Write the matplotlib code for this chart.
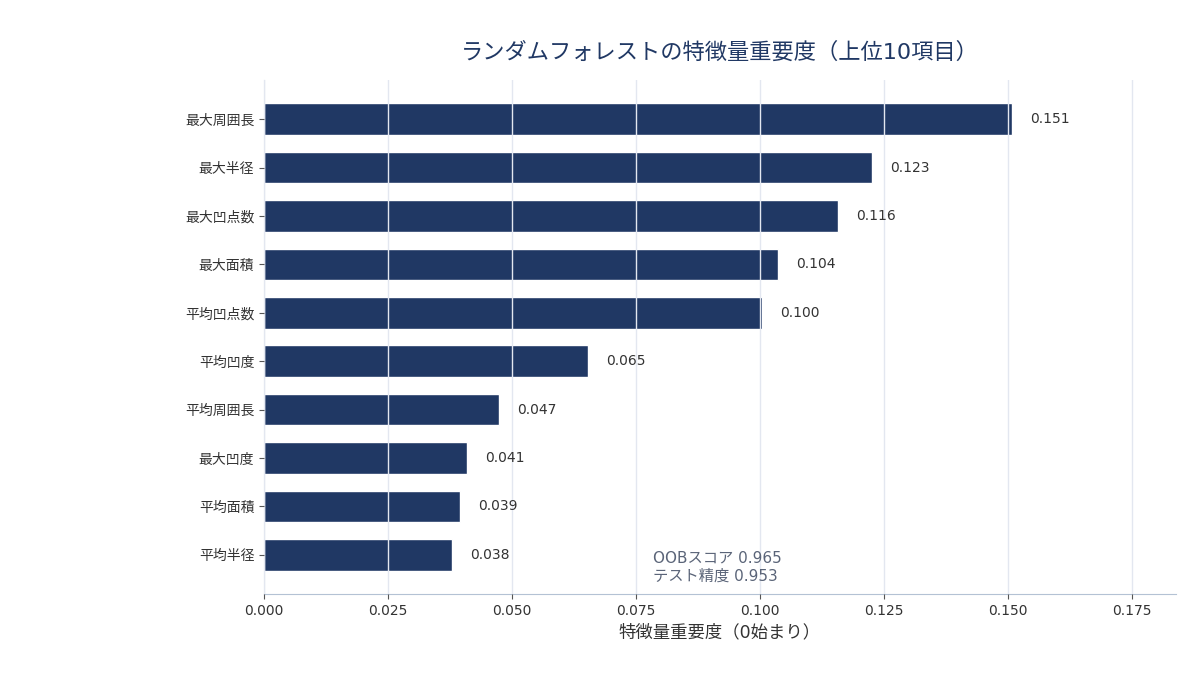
import matplotlib
matplotlib.use("Agg")
import matplotlib.pyplot as plt

plt.rcParams['font.family'] = ['DejaVu Sans', 'Noto Sans CJK JP']

# 特徴量と重要度（上位10項目）
features = ['最大周囲長', '最大半径', '最大凹点数', '最大面積', '平均凹点数',
            '平均凹度', '平均周囲長', '最大凹度', '平均面積', '平均半径']
importance = [0.1508, 0.1226, 0.1157, 0.1036, 0.1004,
              0.0653, 0.0474, 0.0409, 0.0395, 0.0379]
labels = ['0.151', '0.123', '0.116', '0.104', '0.100',
          '0.065', '0.047', '0.041', '0.039', '0.038']
oob_score = 0.965
test_acc = 0.953

navy = '#203864'
spine_c = '#b4c2d4'

fig = plt.figure(figsize=(12, 6.75), dpi=100)
ax = fig.add_axes([0.22, 0.12, 0.76, 0.7615])

ypos = list(range(len(features)))
ax.barh(ypos, importance, height=0.65, color=navy, edgecolor='white', linewidth=1.0)
ax.set_yticks(ypos)
ax.set_yticklabels(features, fontsize=10, color='#333333')
ax.invert_yaxis()

# 値ラベル
for y, v, s in zip(ypos, importance, labels):
    ax.text(v + 0.0037, y, s, va='center', ha='left', fontsize=10, color='#333333')

ax.set_xlim(0, 0.1839)
ax.set_xticks([0, 0.025, 0.05, 0.075, 0.1, 0.125, 0.15, 0.175])
ax.set_xticklabels(['0.000', '0.025', '0.050', '0.075', '0.100', '0.125', '0.150', '0.175'],
                   fontsize=10, color='#333333')
ax.xaxis.grid(True, color='#e3e7f0', linewidth=1.0)
ax.set_axisbelow(False)

for sp in ['top', 'right']:
    ax.spines[sp].set_visible(False)
for sp in ['left', 'bottom']:
    ax.spines[sp].set_color(spine_c)
ax.tick_params(axis='both', colors='#555555', labelcolor='#333333')

ax.set_xlabel('特徴量重要度（0始まり）', fontsize=12.5, color='#333333', labelpad=4)
ax.set_title('ランダムフォレストの特徴量重要度（上位10項目）', fontsize=16, color=navy, pad=15)

ax.text(0.427, 0.02, 'OOBスコア {:.3f}\nテスト精度 {:.3f}'.format(oob_score, test_acc),
        transform=ax.transAxes, fontsize=11, color='#5a6478', ha='left', va='bottom',
        linespacing=1.3)

fig.savefig('out.png', dpi=100)
